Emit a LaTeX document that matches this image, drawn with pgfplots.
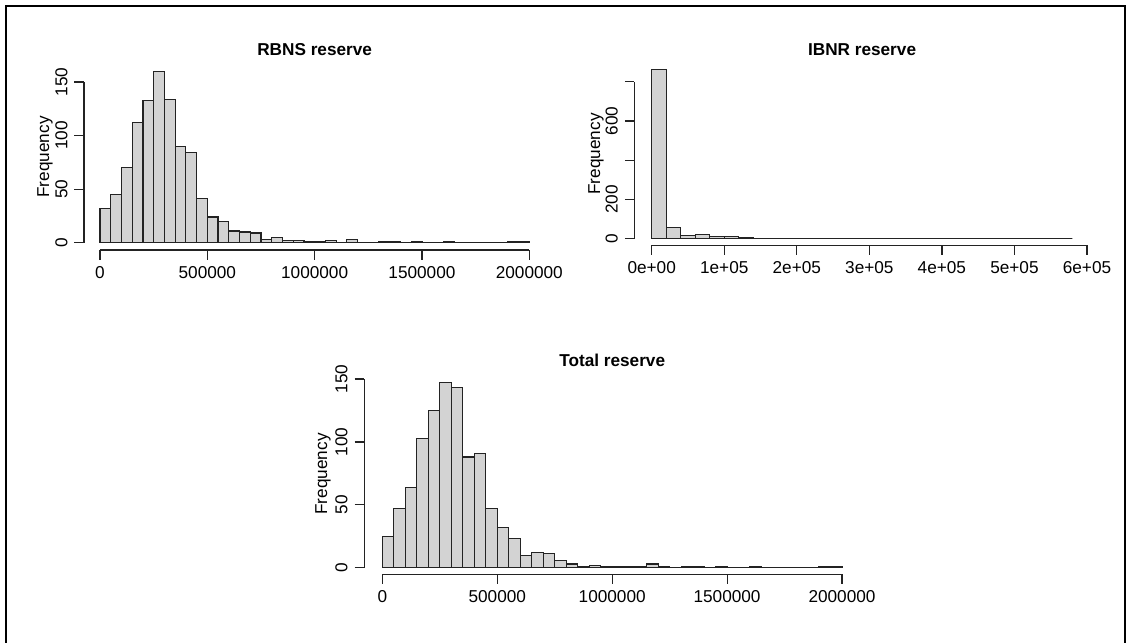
\documentclass[border=0pt]{standalone}
\usepackage{fontspec}
\setmainfont{Liberation Sans}
\usepackage{pgfplots}
\pgfplotsset{compat=1.18}
\definecolor{histfill}{RGB}{211,211,211}
\definecolor{ink}{RGB}{35,35,35}
\newcommand\rfont{\fontsize{8.6}{10}\selectfont}

% R hist() look: axes detached from the plot, rotated y labels
\pgfplotsset{
  rhist/.style={
    scale only axis, clip=false,
    axis lines=left, axis line style={-, ink, line width=0.6pt},
    tick align=outside, major tick length=4.75pt,
    tick style={ink, line width=0.6pt},
    enlargelimits=false, scaled ticks=false,
    tick label style={font=\rfont},
    yticklabel style={rotate=90, anchor=south},
    every axis title/.style={at={(axis description cs:0.5,1.2)}, anchor=center, font=\rfont\bfseries},
  },
  rbar/.style={ybar, bar width=#1, fill=histfill, draw=ink, line width=0.6pt},
}

\begin{document}
\begin{tikzpicture}[font=\rfont]
\path[use as bounding box] (0,0) rectangle (563pt,-321.5pt);
\draw[line width=1pt] (2.75pt,-323pt) -- (2.75pt,-3pt) -- (562.25pt,-3pt) -- (562.25pt,-323pt);

% RBNS reserve
\begin{axis}[rhist,
  at={(50pt,-121.35pt)}, anchor=south west,
  width=214.65pt, height=80.35pt,
  xmin=0, xmax=2000000, ymin=0, ymax=150,
  axis x line shift=3.65pt, axis y line shift=8pt,
  xtick={0,500000,1000000,1500000,2000000},
  xticklabels={0,500000,1000000,1500000,2000000},
  ytick={0,50,100,150}, yticklabels={0,50,100,150},
  title={RBNS reserve}, title style={at={(axis description cs:0.5,1.199)}},
]
\addplot[rbar=50000] coordinates {
  (25000,32)(75000,45)(125000,70)(175000,112)(225000,133)
  (275000,160)(325000,134)(375000,90)(425000,84)(475000,41)
  (525000,24)(575000,20)(625000,11)(675000,10)(725000,9)
  (775000,3)(825000,5)(875000,2)(925000,2)(975000,1)
  (1025000,1)(1075000,2)(1125000,0)(1175000,3)(1225000,0)
  (1275000,0)(1325000,1)(1375000,1)(1425000,0)(1475000,1)
  (1525000,0)(1575000,0)(1625000,1)(1675000,0)(1725000,0)
  (1775000,0)(1825000,0)(1875000,0)(1925000,1)(1975000,1)};
\node[rotate=90] at (rel axis cs:-0.1281,0.5333) {Frequency};
\end{axis}

% IBNR reserve
\begin{axis}[rhist,
  at={(325.85pt,-119.35pt)}, anchor=south west,
  width=217.65pt, height=78.5pt,
  xmin=0, xmax=600000, ymin=0, ymax=800,
  axis x line shift=3.3pt, axis y line shift=8.7pt,
  xtick={0,100000,200000,300000,400000,500000,600000},
  xticklabels={0e+00,1e+05,2e+05,3e+05,4e+05,5e+05,6e+05},
  ytick={0,200,400,600,800}, yticklabels={0,200,,600,},
  title={IBNR reserve}, title style={at={(axis description cs:0.4833,1.2064)}},
]
\addplot[rbar=20000] coordinates {
  (10000,864)(30000,58)(50000,18)(70000,23)(90000,11)
  (110000,11)(130000,4)(150000,0)(170000,3)(190000,3)
  (210000,3)(230000,0)(250000,0)(270000,2)(290000,0)
  (310000,0)(330000,0)(350000,0)(370000,0)(390000,0)
  (410000,0)(430000,2)(450000,0)(470000,0)(490000,0)
  (510000,0)(530000,0)(550000,0)(570000,0)};
\node[rotate=90] at (rel axis cs:-0.128,0.5395) {Frequency};
\end{axis}

% Total reserve
\begin{axis}[rhist,
  at={(191.2pt,-283.85pt)}, anchor=south west,
  width=229.8pt, height=94.35pt,
  xmin=0, xmax=2000000, ymin=0, ymax=150,
  axis x line shift=3.3pt, axis y line shift=9.1pt,
  xtick={0,500000,1000000,1500000,2000000},
  xticklabels={0,500000,1000000,1500000,2000000},
  ytick={0,50,100,150}, yticklabels={0,50,100,150},
  title={Total reserve}, title style={at={(axis description cs:0.5,1.097)}},
]
\addplot[rbar=50000] coordinates {
  (25000,25)(75000,47)(125000,64)(175000,103)(225000,125)
  (275000,147)(325000,143)(375000,88)(425000,91)(475000,47)
  (525000,32)(575000,23)(625000,10)(675000,12)(725000,11)
  (775000,6)(825000,3)(875000,1)(925000,2)(975000,1)
  (1025000,1)(1075000,1)(1125000,1)(1175000,3)(1225000,1)
  (1275000,0)(1325000,1)(1375000,1)(1425000,0)(1475000,1)
  (1525000,0)(1575000,0)(1625000,1)(1675000,0)(1725000,0)
  (1775000,0)(1825000,0)(1875000,0)(1925000,1)(1975000,1)};
\node[rotate=90] at (rel axis cs:-0.1292,0.4965) {Frequency};
\end{axis}
\end{tikzpicture}
\end{document}
